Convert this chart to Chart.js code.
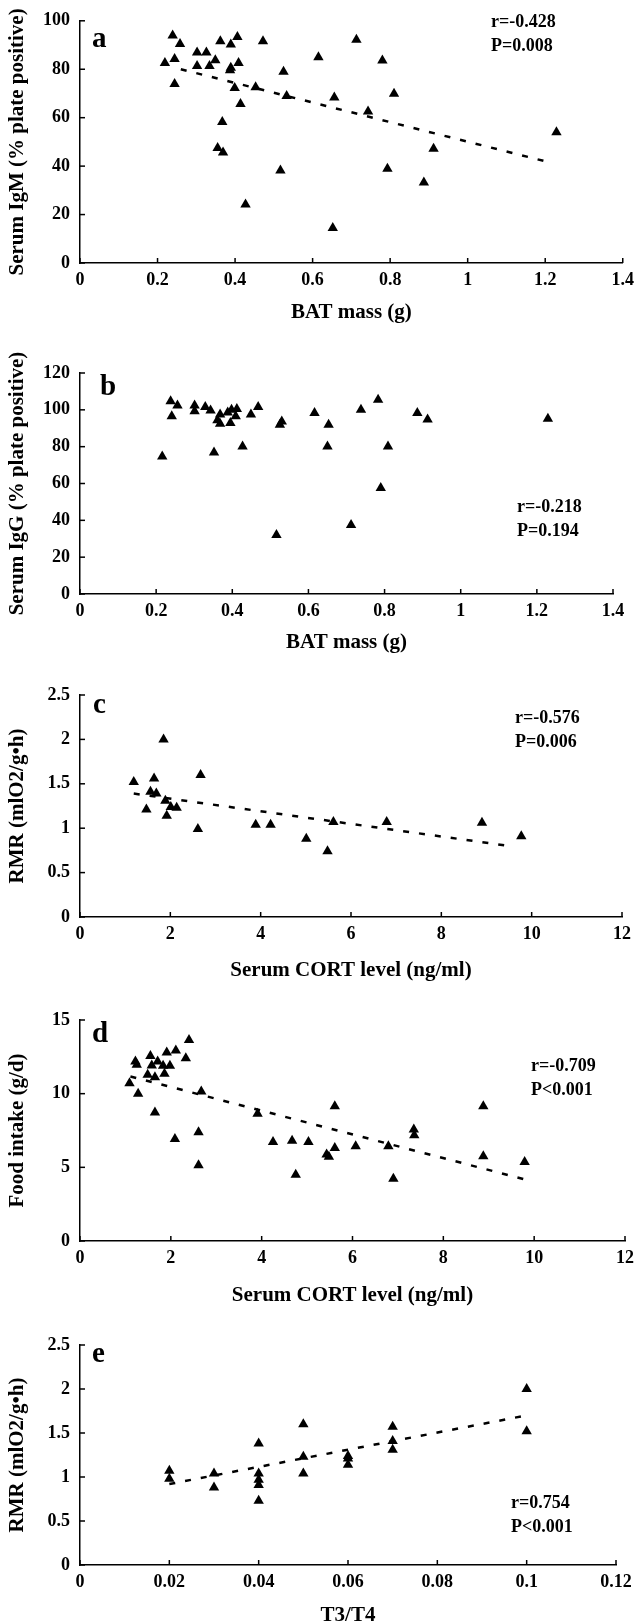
<!DOCTYPE html>
<html>
<head>
<meta charset="utf-8">
<script src="https://cdn.jsdelivr.net/npm/chart.js@4.4.1/dist/chart.umd.min.js"></script>
<style>
html,body{margin:0;padding:0;background:#fff;overflow:hidden;}
#wrap{position:relative;width:641px;height:1624px;overflow:hidden;}
canvas{position:absolute;left:0;}
</style>
</head>
<body>
<div id="wrap"></div>
<script>
// ---------- DATA ----------
// Panel a: BAT mass vs serum IgM
const batA = [0.219,0.239,0.244,0.244,0.258,0.302,0.302,0.326,0.334,0.349,0.362,0.367,0.355,0.369,0.389,0.389,0.387,0.406,0.409,0.399,0.414,0.427,0.453,0.472,0.517,0.525,0.533,0.615,0.652,0.656,0.713,0.743,0.780,0.793,0.810,0.887,0.912,1.229];
const igmA = [82.6,93.9,84.2,73.9,90.4,86.9,81.3,86.9,81.3,83.7,91.6,58.2,47.5,45.6,90.2,80.6,79.6,93.3,82.6,72.3,65.6,24.2,72.6,91.6,38.2,79.0,68.9,84.9,14.4,68.3,92.2,62.6,83.6,38.9,69.9,33.2,47.2,54.0];
const trendAx = [0.26, 1.2];
const trendAy = [80.0, 42.0];

// Panel b: BAT mass vs serum IgG
const batB = [0.216,0.238,0.241,0.256,0.301,0.301,0.329,0.343,0.352,0.361,0.368,0.368,0.388,0.395,0.398,0.409,0.412,0.427,0.449,0.468,0.516,0.525,0.530,0.616,0.650,0.653,0.712,0.738,0.783,0.790,0.809,0.886,0.913,1.229];
const iggB = [74.7,104.6,96.5,102.3,102.3,99.2,101.5,99.7,76.9,94.3,97.4,92.5,98.6,92.8,100.1,96.5,100.5,80.1,97.4,101.5,32.1,91.9,93.7,98.3,80.1,91.9,37.5,100.1,105.5,57.5,80.1,98.3,94.7,95.2];

// Panel c: serum CORT vs RMR
const cortC = [1.19,1.47,1.56,1.64,1.69,1.85,1.89,1.92,2.01,2.14,2.61,2.67,3.89,4.22,5.01,5.48,5.61,6.79,8.90,9.77];
const rmrC = [1.52,1.21,1.41,1.56,1.39,2.00,1.31,1.14,1.24,1.23,0.99,1.60,1.04,1.04,0.88,0.74,1.07,1.07,1.06,0.91];
const trendCx = [1.19, 9.50];
const trendCy = [1.39, 0.80];

// Panel d: serum CORT vs food intake
const cortD = [1.09,1.22,1.25,1.28,1.49,1.55,1.58,1.65,1.65,1.71,1.83,1.86,1.91,1.98,2.09,2.11,2.33,2.40,2.61,2.61,2.67,3.91,4.25,4.67,4.75,5.03,5.43,5.48,5.61,5.61,6.07,6.79,6.90,7.35,7.36,8.88,8.88,9.79];
const foodD = [10.71,12.18,11.96,9.99,11.28,12.56,11.91,11.12,8.73,12.18,11.89,11.35,12.79,11.89,6.93,12.93,12.41,13.65,7.38,5.14,10.15,8.64,6.72,6.81,4.49,6.72,5.87,5.71,9.14,6.32,6.43,6.43,4.22,7.56,7.17,9.14,5.75,5.37];
const trendDx = [1.11, 9.77];
const trendDy = [11.17, 4.20];

// Panel e: T3/T4 vs RMR
const t3t4E = [0.02,0.02,0.03,0.03,0.04,0.04,0.04,0.04,0.04,0.05,0.05,0.05,0.06,0.06,0.06,0.07,0.07,0.07,0.10,0.10];
const rmrE = [1.07,0.98,1.04,0.88,1.38,1.04,0.97,0.91,0.73,1.60,1.23,1.04,1.24,1.21,1.14,1.57,1.41,1.31,2.00,1.52];
const trendEx = [0.02, 0.10];
const trendEy = [0.92, 1.70];

// Ticks
const xTicksBAT = [0,0.2,0.4,0.6,0.8,1,1.2,1.4];
const yTicksIgM = [0,20,40,60,80,100];
const yTicksIgG = [0,20,40,60,80,100,120];
const xTicksCORT = [0,2,4,6,8,10,12];
const yTicksRMR = [0,0.5,1,1.5,2,2.5];
const yTicksFood = [0,5,10,15];
const xTicksT3 = [0,0.02,0.04,0.06,0.08,0.1,0.12];

// Texts
const panelLetters = ['a','b','c','d','e'];
const xTitles = ['BAT mass (g)','BAT mass (g)','Serum CORT level (ng/ml)','Serum CORT level (ng/ml)','T3/T4'];
const yTitles = ['Serum IgM (% plate positive)','Serum IgG (% plate positive)','RMR (mlO2/g\u2022h)','Food intake (g/d)','RMR (mlO2/g\u2022h)'];
const statR = ['r=-0.428','r=-0.218','r=-0.576','r=-0.709','r=0.754'];
const statP = ['P=0.008','P=0.194','P=0.006','P<0.001','P<0.001'];

// ---------- LAYOUT ----------
const FONT = '"Liberation Serif", "Times New Roman", serif';
const layouts = [
  {band:0,    bandH:340, top:15,   bottom:263,  right:627, gap:49, lx:12, ly:26, ax:491, ay:2},
  {band:340,  bandH:330, top:373,  bottom:594,  right:613, gap:48, lx:20, ly:22, ax:517, ay:134},
  {band:670,  bandH:320, top:695,  bottom:917,  right:622, gap:53, lx:13, ly:18, ax:515, ay:23},
  {band:990,  bandH:325, top:1020, bottom:1241, right:630, gap:54, lx:12, ly:22, ax:531, ay:46},
  {band:1315, bandH:320, top:1345, bottom:1565, right:616, gap:50, lx:12, ly:17, ax:511, ay:158}
];

const panels = [
  {x:batA, y:igmA, tx:trendAx, ty:trendAy, xt:xTicksBAT, yt:yTicksIgM},
  {x:batB, y:iggB, tx:null, ty:null, xt:xTicksBAT, yt:yTicksIgG},
  {x:cortC, y:rmrC, tx:trendCx, ty:trendCy, xt:xTicksCORT, yt:yTicksRMR},
  {x:cortD, y:foodD, tx:trendDx, ty:trendDy, xt:xTicksCORT, yt:yTicksFood},
  {x:t3t4E, y:rmrE, tx:trendEx, ty:trendEy, xt:xTicksT3, yt:yTicksRMR}
];

const decor = {
  id:'decor',
  afterDraw(chart, args, o){
    const ctx = chart.ctx, xs = chart.scales.x, ys = chart.scales.y, ca = chart.chartArea;
    ctx.save();
    ctx.strokeStyle = '#000'; ctx.lineWidth = 1.5;
    xs.ticks.forEach(t => { const px = xs.getPixelForValue(t.value); ctx.beginPath(); ctx.moveTo(px, ys.bottom); ctx.lineTo(px, ys.bottom - 5); ctx.stroke(); });
    ys.ticks.forEach(t => { const py = ys.getPixelForValue(t.value); ctx.beginPath(); ctx.moveTo(xs.left, py); ctx.lineTo(xs.left + 5, py); ctx.stroke(); });
    ctx.fillStyle = '#000';
    ctx.textAlign = 'left';
    ctx.textBaseline = 'alphabetic';
    ctx.font = 'bold 29px ' + FONT;
    ctx.fillText(o.letter, ca.left + o.lx, ca.top + o.ly);
    ctx.font = 'bold 18px ' + FONT;
    ctx.textBaseline = 'middle';
    ctx.fillText(o.r, o.ax, ca.top + o.ay);
    ctx.fillText(o.p, o.ax, ca.top + o.ay + 24);
    ctx.restore();
  }
};

const wrap = document.getElementById('wrap');
panels.forEach((p, i) => {
  const L = layouts[i];
  const cv = document.createElement('canvas');
  cv.width = 641; cv.height = L.bandH;
  cv.style.top = L.band + 'px';
  cv.style.width = '641px'; cv.style.height = L.bandH + 'px';
  wrap.appendChild(cv);
  const xH = L.gap + 15;
  const datasets = [];
  if (p.tx) {
    datasets.push({
      data: p.tx.map((v, k) => ({x: v, y: p.ty[k]})),
      showLine: true, borderColor: '#000', borderWidth: 2.5, borderDash: [6, 10],
      pointRadius: 0, fill: false, order: 2
    });
  }
  datasets.push({
    data: p.x.map((v, k) => ({x: v, y: p.y[k]})),
    pointStyle: 'triangle', pointRadius: 6, pointHoverRadius: 6,
    backgroundColor: '#000', borderColor: '#000', borderWidth: 0, showLine: false, order: 1
  });
  const xmin = p.xt[0], xmax = p.xt[p.xt.length - 1];
  const ymin = p.yt[0], ymax = p.yt[p.yt.length - 1];
  new Chart(cv, {
    type: 'scatter',
    data: {datasets},
    options: {
      responsive: false, animation: false, devicePixelRatio: 1,
      layout: {autoPadding: false, padding: {left: 0, right: 641 - L.right, top: L.top - L.band, bottom: L.band + L.bandH - L.bottom - xH}},
      plugins: {legend: {display: false}, tooltip: {enabled: false},
        decor: {letter: panelLetters[i], r: statR[i], p: statP[i], lx: L.lx, ly: L.ly, ax: L.ax, ay: L.ay}},
      scales: {
        x: {
          type: 'linear', min: xmin, max: xmax,
          afterBuildTicks: s => { s.ticks = p.xt.map(v => ({value: v})); },
          afterFit: s => { s.height = xH; },
          grid: {display: false, drawTicks: false},
          border: {display: true, color: '#000', width: 1.5},
          ticks: {color: '#000', font: {family: FONT, size: 18, weight: 'bold'}, padding: 7, maxRotation: 0, autoSkip: false,
            callback: v => String(v)},
          title: {display: true, text: xTitles[i], color: '#000', font: {family: FONT, size: 21, weight: 'bold'}, padding: {top: 0, bottom: 2}}
        },
        y: {
          type: 'linear', min: ymin, max: ymax,
          afterBuildTicks: s => { s.ticks = p.yt.map(v => ({value: v})); },
          afterFit: s => { s.width = 80; },
          grid: {display: false, drawTicks: false},
          border: {display: true, color: '#000', width: 1.5},
          ticks: {color: '#000', font: {family: FONT, size: 18, weight: 'bold'}, padding: 10, autoSkip: false,
            callback: v => String(v)},
          title: {display: true, text: yTitles[i], color: '#000', font: {family: FONT, size: 21, weight: 'bold'}, padding: {top: 5, bottom: 0}}
        }
      }
    },
    plugins: [decor]
  });
});
</script>
</body>
</html>
